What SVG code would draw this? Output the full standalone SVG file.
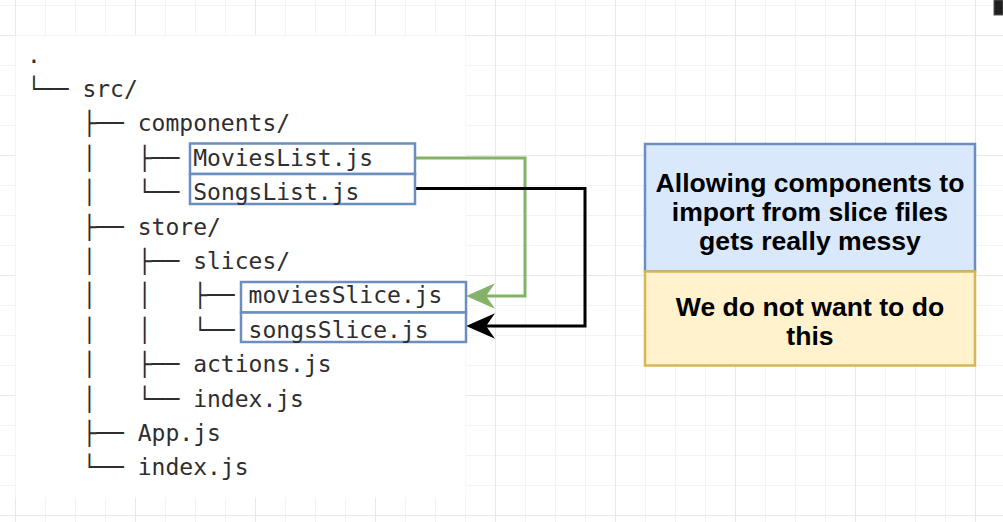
<svg xmlns="http://www.w3.org/2000/svg" width="1003" height="522" viewBox="0 0 1003 522">
<defs>
<style>
.minor{stroke:#f3f3f3;stroke-width:1}
.major{stroke:#e8e8e8;stroke-width:1}
.tree{font-family:"DejaVu Sans Mono","Liberation Mono",monospace;font-size:23px;fill:#2e2e2e;white-space:pre}
.file{fill:#ffffff;stroke:#6c8ebf;stroke-width:2.5}
.note{font-family:"Liberation Sans",Arial,sans-serif;font-size:26.6px;font-weight:bold;fill:#000;text-anchor:middle}
.edge{fill:none;stroke-width:3}
</style>
<pattern id="gridMinor" x="15" y="5" width="30" height="30" patternUnits="userSpaceOnUse">
<path d="M0.5,0 V30 M0,0.5 H30" class="minor"/>
</pattern>
<pattern id="gridMajor" x="15" y="35" width="120" height="120" patternUnits="userSpaceOnUse">
<path d="M0.5,0 V120 M0,0.5 H120" class="major"/>
</pattern>
<marker id="arrowGreen" markerUnits="userSpaceOnUse" markerWidth="30" markerHeight="30" viewBox="0 -12 27 24" refX="18" refY="0" orient="auto">
<path d="M0,-11.5 L26,0 L0,11.5 L8,0 Z" fill="#82b366"/>
</marker>
<marker id="arrowBlack" markerUnits="userSpaceOnUse" markerWidth="30" markerHeight="30" viewBox="0 -12 27 24" refX="18" refY="0" orient="auto">
<path d="M0,-11.5 L26,0 L0,11.5 L8,0 Z" fill="#000000"/>
</marker>
</defs>
<rect width="1003" height="522" fill="#ffffff"/>
<rect width="1003" height="522" fill="url(#gridMinor)"/>
<rect width="1003" height="522" fill="url(#gridMajor)"/>
<rect x="15.5" y="35.5" width="450" height="462" fill="#ffffff"/>
<rect x="994" y="0" width="9" height="15" fill="#1f1f1f" stroke="#555" stroke-width="1"/>

<g id="tree" class="tree">
<text x="27" y="62.5">.</text>
<text x="27" y="96.9">└── src/</text>
<text x="27" y="131.3">&#160;&#160;&#160;&#160;├── components/</text>
<text x="27" y="165.7">&#160;&#160;&#160;&#160;│&#160;&#160;&#160;├──</text>
<text x="27" y="200.1">&#160;&#160;&#160;&#160;│&#160;&#160;&#160;└──</text>
<text x="27" y="234.5">&#160;&#160;&#160;&#160;├── store/</text>
<text x="27" y="268.9">&#160;&#160;&#160;&#160;│&#160;&#160;&#160;├── slices/</text>
<text x="27" y="303.3">&#160;&#160;&#160;&#160;│&#160;&#160;&#160;│&#160;&#160;&#160;├──</text>
<text x="27" y="337.7">&#160;&#160;&#160;&#160;│&#160;&#160;&#160;│&#160;&#160;&#160;└──</text>
<text x="27" y="372.1">&#160;&#160;&#160;&#160;│&#160;&#160;&#160;├── actions.js</text>
<text x="27" y="406.5">&#160;&#160;&#160;&#160;│&#160;&#160;&#160;└── index.js</text>
<text x="27" y="440.9">&#160;&#160;&#160;&#160;├── App.js</text>
<text x="27" y="475.3">&#160;&#160;&#160;&#160;└── index.js</text>
</g>

<g id="connectors">
<path class="edge" d="M415,158 H525 V296 H475" stroke="#82b366" marker-end="url(#arrowGreen)"/>
<path class="edge" d="M415,188.5 H585 V326 H475" stroke="#000000" marker-end="url(#arrowBlack)"/>
</g>

<g id="node-movieslist">
<rect class="file" x="190" y="143.5" width="225" height="30.5"/>
<text class="tree" x="193.2" y="165.7">MoviesList.js</text>
</g>
<g id="node-songslist">
<rect class="file" x="190" y="174" width="225" height="30"/>
<text class="tree" x="193.2" y="200.1">SongsList.js</text>
</g>
<g id="node-moviesslice">
<rect class="file" x="241" y="282" width="225" height="30.5"/>
<text class="tree" x="248.6" y="303.3">moviesSlice.js</text>
</g>
<g id="node-songsslice">
<rect class="file" x="241" y="312.5" width="225" height="29.5"/>
<text class="tree" x="248.6" y="337.7">songsSlice.js</text>
</g>

<g id="node-messy">
<rect x="645" y="144" width="330" height="127.5" fill="#dae8fc" stroke="#6c8ebf" stroke-width="2.5"/>
<text class="note" x="810" y="192">Allowing components to</text>
<text class="note" x="810" y="221">import from slice files</text>
<text class="note" x="810" y="250">gets really messy</text>
</g>
<g id="node-donot">
<rect x="645" y="271.5" width="330" height="94" fill="#fff2cc" stroke="#d6b656" stroke-width="2.5"/>
<text class="note" x="810" y="316">We do not want to do</text>
<text class="note" x="810" y="345">this</text>
</g>
</svg>
